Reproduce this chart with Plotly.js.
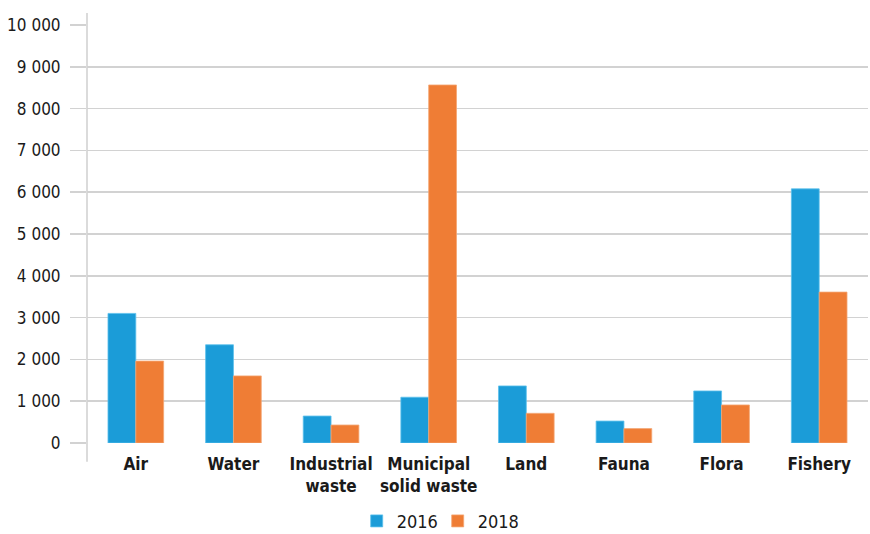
<!DOCTYPE html>
<html>
<head>
<meta charset="utf-8">
<script src="https://cdn.plot.ly/plotly-3.0.1.min.js"></script>
<style>
html,body{margin:0;padding:0;background:#fff;}
#chart{width:870px;height:534px;}
#chart text{font-stretch:condensed !important;}
</style>
</head>
<body>
<div id="chart"></div>
<script>
const categories = ["Air", "Water", "Industrial<br>waste", "Municipal<br>solid waste", "Land", "Fauna", "Flora", "Fishery"];
const values2016 = [3100, 2350, 645, 1095, 1365, 525, 1245, 6080];
const values2018 = [1960, 1605, 430, 8565, 710, 345, 910, 3610];
const seriesNames = ["2016", "2018"];
const yTicks = [0, 1000, 2000, 3000, 4000, 5000, 6000, 7000, 8000, 9000, 10000];

const FONT = '"DejaVu Sans Condensed", "DejaVu Sans", sans-serif';

const traces = [
  {type: 'bar', name: seriesNames[0], x: categories, y: values2016,
   marker: {color: '#1b9cd8', line: {color: '#5cc0ec', width: 0.8}}},
  {type: 'bar', name: seriesNames[1], x: categories, y: values2018,
   marker: {color: '#ef7d35', line: {color: '#f4a673', width: 0.8}}}
];

const layout = {
  width: 870, height: 534,
  margin: {l: 87, r: 2, t: 25, b: 91},
  paper_bgcolor: '#ffffff', plot_bgcolor: '#ffffff',
  separators: '. ',
  font: {family: FONT, size: 17, color: '#1a1a1a'},
  barmode: 'group', bargap: 0.43, bargroupgap: 0,
  showlegend: true,
  legend: {orientation: 'h', xref: 'container', yref: 'container',
           x: 0.41, xanchor: 'left', y: 0.024, yanchor: 'middle',
           entrywidth: 36, entrywidthmode: 'pixels',
           font: {family: FONT, size: 18, color: '#1a1a1a'}, traceorder: 'normal', itemwidth: 30},
  xaxis: {
    type: 'category', showgrid: false, zeroline: false, showline: false, ticks: '',
    tickangle: 0, automargin: false,
    tickfont: {family: FONT, size: 17, color: '#1a1a1a', weight: 'bold'},
    ticklabelstandoff: 9
  },
  yaxis: {
    range: [0, 10000], tickvals: yTicks, tickformat: ',d', separatethousands: true,
    showgrid: true, gridcolor: '#d2d2d2', gridwidth: 1.6,
    zeroline: false, showline: false, automargin: false,
    ticks: 'outside', ticklen: 16, tickcolor: '#d2d2d2', tickwidth: 1.6,
    tickfont: {family: FONT, size: 17, color: '#1a1a1a'},
    ticklabelstandoff: 6
  },
  shapes: [
    {type: 'line', xref: 'paper', yref: 'paper', x0: 0, x1: 0, y0: -0.045, y1: 1.029,
     line: {color: '#d2d2d2', width: 1.6}}
  ]
};

Plotly.newPlot('chart', traces, layout, {displayModeBar: false, staticPlot: true});
</script>
</body>
</html>
